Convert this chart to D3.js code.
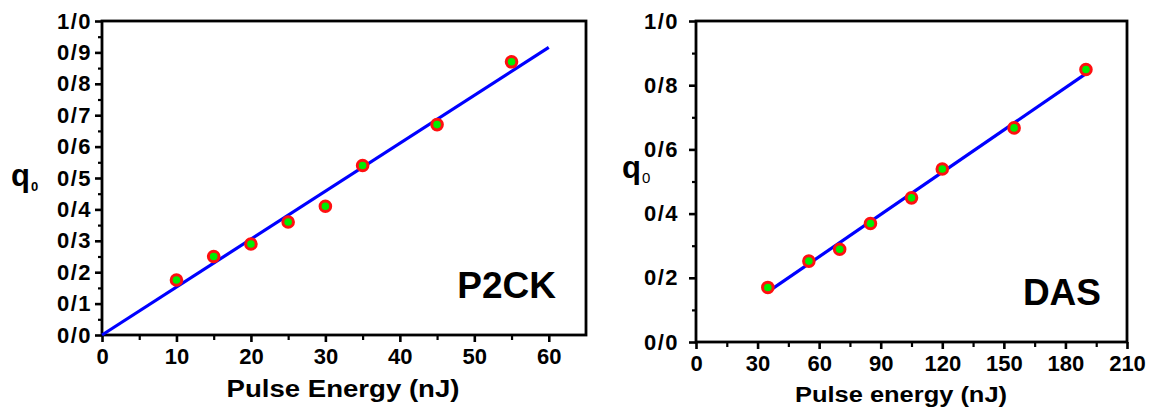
<!DOCTYPE html>
<html>
<head>
<meta charset="utf-8">
<script src="https://cdn.jsdelivr.net/npm/d3@7"></script>
<style>
  body { margin: 0; background: #fff; }
  svg text { font-family: "Liberation Sans", Arial, sans-serif; font-weight: bold; fill: #000; }
</style>
</head>
<body>
<svg id="chart" width="1151" height="412"></svg>
<script>
// Datos panel izquierdo (P2CK)
var energiaP2CK = [10, 15, 20, 25, 30, 35, 45, 55];
var q0P2CK = [0.175, 0.25, 0.29, 0.36, 0.41, 0.54, 0.67, 0.87];
var ajusteXP2CK = [0, 60];
var ajusteYP2CK = [0, 0.916];
var ticksXP2CK = [0, 10, 20, 30, 40, 50, 60];
var ticksYP2CK = [0, 0.1, 0.2, 0.3, 0.4, 0.5, 0.6, 0.7, 0.8, 0.9, 1.0];

// Datos panel derecho (DAS)
var energiaDAS = [35, 55, 70, 85, 105, 120, 155, 190];
var q0DAS = [0.17, 0.252, 0.289, 0.369, 0.449, 0.539, 0.667, 0.849];
var ajusteXDAS = [35, 190];
var ajusteYDAS = [0.156, 0.836];
var ticksXDAS = [0, 30, 60, 90, 120, 150, 180, 210];
var ticksYDAS = [0, 0.2, 0.4, 0.6, 0.8, 1.0];

var svg = d3.select("#chart");
var formatoY = function (d) { return d3.format(".1f")(d).replace(".", "/"); };

function dibujarPanel(p) {
    var x = d3.scaleLinear().domain(p.xDom).range([p.left, p.right]);
    var y = d3.scaleLinear().domain([0, 1]).range([p.bottom, p.top]);
    var g = svg.append("g");

    // Ticks menores
    g.append("g")
        .attr("transform", "translate(0," + p.bottom + ")")
        .call(d3.axisBottom(x).tickValues(p.xMinor).tickSize(5).tickFormat(""))
        .call(s => s.select(".domain").remove())
        .selectAll("line").attr("stroke-width", 2.2);
    g.append("g")
        .attr("transform", "translate(" + p.left + ",0)")
        .call(d3.axisLeft(y).tickValues(p.yMinor).tickSize(4).tickFormat(""))
        .call(s => s.select(".domain").remove())
        .selectAll("line").attr("stroke-width", 2.2);

    // Ejes principales
    var ax = g.append("g")
        .attr("transform", "translate(0," + p.bottom + ")")
        .call(d3.axisBottom(x).tickValues(p.xTicks).tickSize(7).tickPadding(6).tickFormat(d3.format("d")));
    ax.select(".domain").remove();
    ax.selectAll("line").attr("stroke-width", 2.6);
    ax.selectAll("text").style("font-size", "22px").attr("dy", "0.71em");

    var ay = g.append("g")
        .attr("transform", "translate(" + p.left + ",0)")
        .call(d3.axisLeft(y).tickValues(p.yTicks).tickSize(7).tickPadding(p.yPad).tickFormat(formatoY));
    ay.select(".domain").remove();
    ay.selectAll("line").attr("stroke-width", 2.6);
    ay.selectAll("text").style("font-size", "22px").style("letter-spacing", "1.5px");

    // Marco
    g.append("rect")
        .attr("x", p.left).attr("y", p.top)
        .attr("width", p.right - p.left).attr("height", p.bottom - p.top)
        .attr("fill", "none").attr("stroke", "#000").attr("stroke-width", 2.8);

    // Recta de ajuste
    var linea = d3.line().x(d => x(d[0])).y(d => y(d[1]));
    g.append("path")
        .attr("d", linea(d3.zip(p.fitX, p.fitY)))
        .attr("fill", "none").attr("stroke", "#0000ff").attr("stroke-width", 3.2);

    // Puntos
    g.selectAll("circle.pt")
        .data(d3.zip(p.xs, p.ys))
        .join("circle")
        .attr("class", "pt")
        .attr("cx", d => x(d[0])).attr("cy", d => y(d[1]))
        .attr("r", 5.3)
        .attr("fill", "#00ee00").attr("stroke", "#ff1010").attr("stroke-width", 3);

    // Etiqueta del panel
    g.append("text")
        .attr("x", p.tagX).attr("y", p.tagY)
        .attr("text-anchor", "end")
        .style("font-size", "37px")
        .text(p.tag);

    // Titulo eje X
    g.append("text")
        .attr("x", p.xtX).attr("y", p.xtY)
        .attr("text-anchor", "middle")
        .attr("textLength", p.xtLen)
        .attr("lengthAdjust", "spacingAndGlyphs")
        .style("font-size", p.xtSize)
        .text(p.xTitle);

    // Titulo eje Y (q0)
    var t = g.append("text")
        .attr("x", p.qX).attr("y", p.qY)
        .style("font-size", "31px");
    t.append("tspan").text("q");
    t.append("tspan").attr("dy", 5).attr("dx", 1).style("font-size", p.subSize)
        .style("font-weight", p.subBold ? "bold" : "normal").text("0");
}

dibujarPanel({
    xDom: [0, 65], left: 102, right: 586, top: 21, bottom: 335,
    xTicks: ticksXP2CK, xMinor: d3.range(5, 65, 10),
    yTicks: ticksYP2CK, yMinor: d3.range(0.05, 1, 0.1), yPad: 3,
    xs: energiaP2CK, ys: q0P2CK, fitX: ajusteXP2CK, fitY: ajusteYP2CK,
    tag: "P2CK", tagX: 556, tagY: 298,
    xTitle: "Pulse Energy (nJ)", xtX: 343, xtY: 397, xtSize: "23px", xtLen: 233,
    qX: 11, qY: 186, subBold: true, subSize: "13px"
});

dibujarPanel({
    xDom: [0, 210], left: 696, right: 1127, top: 21, bottom: 342,
    xTicks: ticksXDAS, xMinor: d3.range(15, 210, 30),
    yTicks: ticksYDAS, yMinor: d3.range(0.1, 1, 0.2), yPad: 10,
    xs: energiaDAS, ys: q0DAS, fitX: ajusteXDAS, fitY: ajusteYDAS,
    tag: "DAS", tagX: 1101, tagY: 305,
    xTitle: "Pulse energy (nJ)", xtX: 901, xtY: 402, xtSize: "22px", xtLen: 212,
    qX: 622, qY: 178, subBold: false, subSize: "15px"
});
</script>
</body>
</html>
